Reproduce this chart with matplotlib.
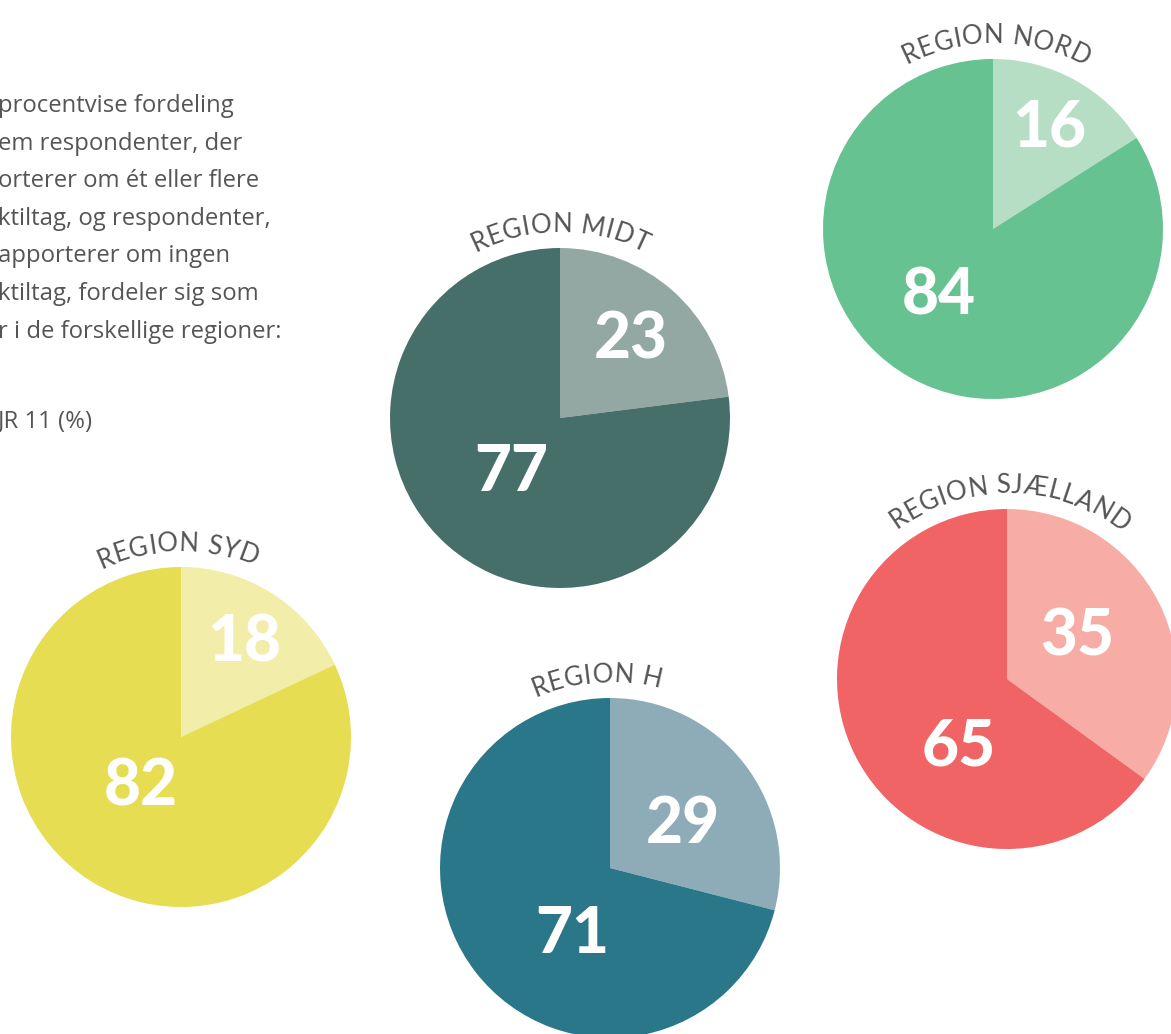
import matplotlib
matplotlib.use("Agg")
import matplotlib.pyplot as plt
from matplotlib.font_manager import FontProperties
import numpy as np

# data: share reporting one or more tiltag vs none (%)
regions = ["REGION NORD", "REGION MIDT", "REGION SYD", "REGION H", "REGION SJÆLLAND"]
small_vals = [16, 23, 18, 29, 35]
big_vals = [84, 77, 82, 71, 65]

intro_lines = ["procentvise fordeling",
               "em respondenter, der",
               "orterer om ét eller flere",
               "ktiltag, og respondenter,",
               "apporterer om ingen",
               "ktiltag, fordeler sig som",
               "r i de forskellige regioner:"]
fig_label = "JR 11 (%)"

# layout (pixels, y from top)
W, H = 1171, 1034
centers = [(993, 229), (560, 418), (181, 737), (610, 868), (1007, 679)]
radius = 170
light_cols = ["#b5dec5", "#94a8a3", "#f2eda8", "#8eacb8", "#f7aca6"]
dark_cols = ["#66c291", "#466f69", "#e6dd52", "#2a778a", "#f06466"]
# label placement: (frac of radius, angle clockwise from top) for small / big slice
small_lab = [(0.68, 29), (0.62, 42), (0.67, 34), (0.50, 59), (0.48, 59)]
big_lab = [(0.51, 219), (0.43, 222), (0.38, 219), (0.45, 210), (0.49, 215)]
title_shift = [-1, 0, 1, 4, -1]  # degrees, + moves left

fig = plt.figure(figsize=(W / 100, H / 100), dpi=100)
ax = fig.add_axes([0, 0, 1, 1])

for i, reg in enumerate(regions):
    cx, cy = centers[i]
    ax.pie([small_vals[i], big_vals[i]], colors=[light_cols[i], dark_cols[i]],
           startangle=90, counterclock=False, radius=radius,
           center=(cx, H - cy), wedgeprops=dict(linewidth=0))
    for (fr, ang), val in zip([small_lab[i], big_lab[i]], [small_vals[i], big_vals[i]]):
        a = np.radians(ang)
        x = cx + fr * radius * np.sin(a)
        y = (H - cy) + fr * radius * np.cos(a)
        ax.text(x, y, str(val), color="white", fontsize=46, fontweight="black",
                family="Lato", ha="center", va="center")

ax.set_xlim(0, W)
ax.set_ylim(0, H)
ax.set_aspect("equal")
ax.axis("off")

# curved region titles
renderer = fig.canvas.get_renderer()
fp = FontProperties(family="Lato", size=18.5)
track = 0.5
R = 186


def textw(s):
    if s == "":
        return 0.0
    w, h, d = renderer.get_text_width_height_descent(s, fp, ismath=False)
    return w


for i, reg in enumerate(regions):
    cx, cy = centers[i]
    cy = H - cy
    mids = []
    for k in range(len(reg)):
        a0 = textw(reg[:k]) + track * k
        a1 = textw(reg[:k + 1]) + track * k
        mids.append((a0 + a1) / 2)
    L = textw(reg) + track * (len(reg) - 1)
    for k, ch in enumerate(reg):
        if ch == " ":
            continue
        th = np.pi / 2 - (mids[k] - L / 2) / R + np.radians(title_shift[i])
        x = cx + R * np.cos(th)
        y = cy + R * np.sin(th)
        ax.text(x, y, ch, fontproperties=fp, color="#555555",
                rotation=np.degrees(th) - 90, rotation_mode="anchor",
                ha="center", va="baseline")

# intro text, cut at left edge like the source
for j, line in enumerate(intro_lines):
    ax.text(-2, H - (106 + j * 37.6), line, fontsize=17.2, family="Open Sans",
            color="#555555", ha="left", va="center")
ax.text(-2, H - 421, fig_label, fontsize=17.2, family="Open Sans",
        color="#555555", ha="left", va="center")

fig.savefig("out.png", dpi=100)
